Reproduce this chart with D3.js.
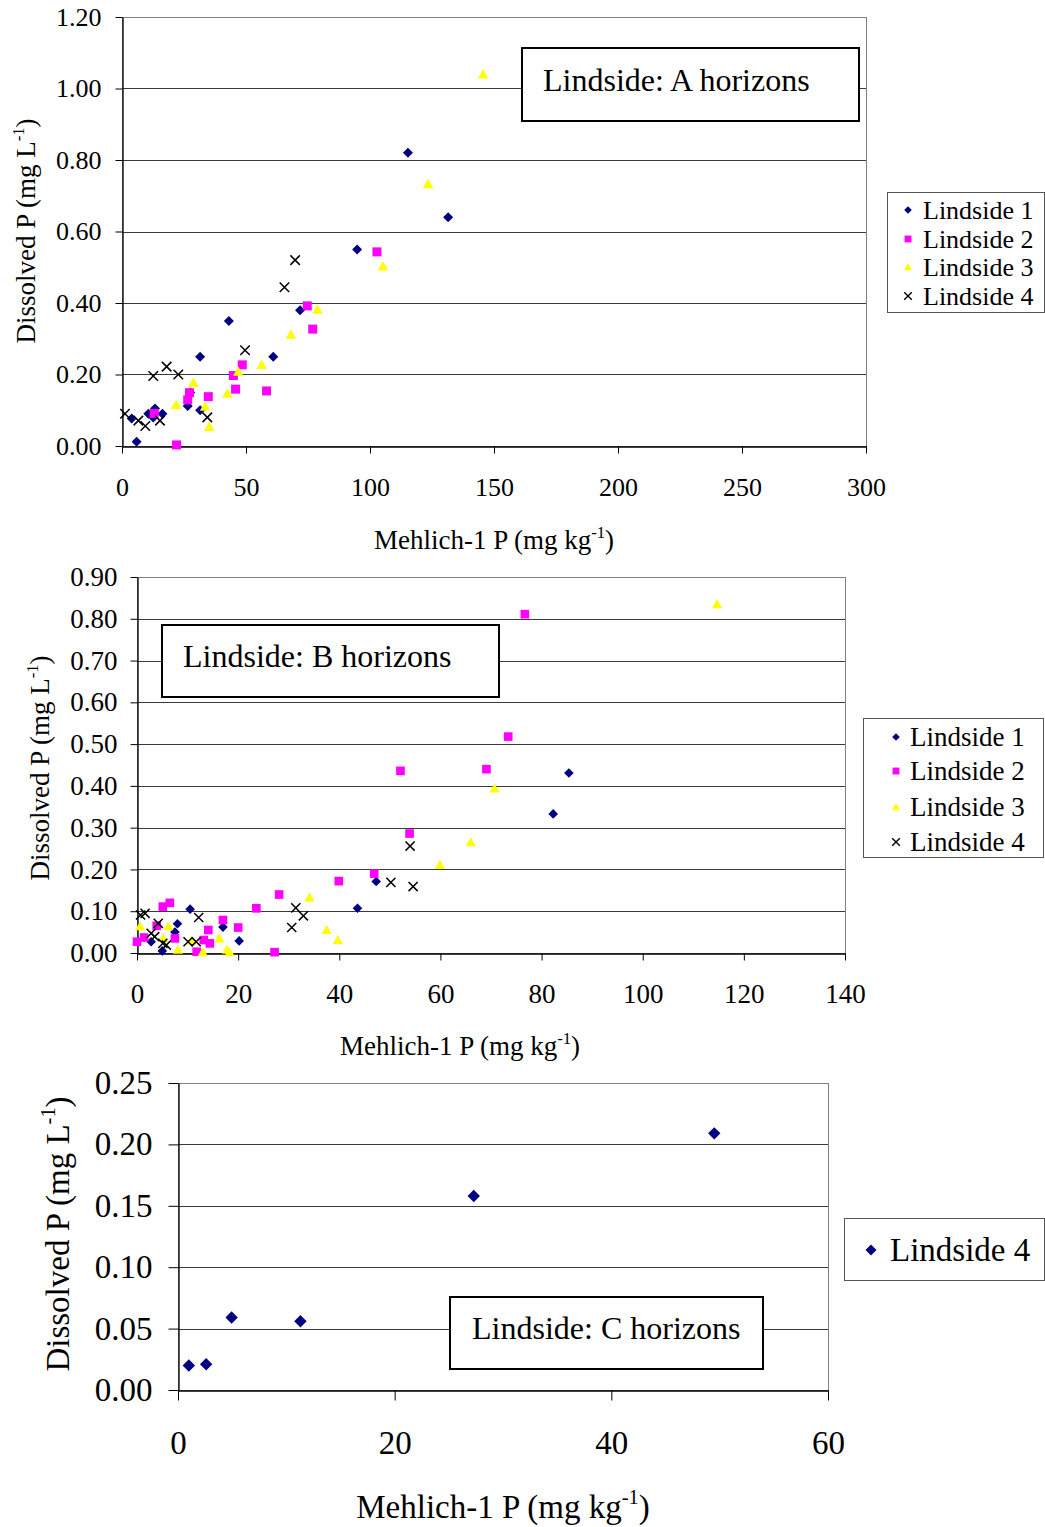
<!DOCTYPE html>
<html><head><meta charset="utf-8">
<script src="https://cdn.jsdelivr.net/npm/d3@7"></script>
<style>
body{margin:0;background:#fff}
svg{display:block}
text{font-family:"Liberation Serif","Times New Roman",serif;fill:#000}
</style>
</head><body>
<svg id="c" width="1045" height="1527"></svg>
<script>
// ---------- DATA ----------
const seriesNames = ["Lindside 1", "Lindside 2", "Lindside 3", "Lindside 4"];

// A horizons  [Mehlich-1 P, Dissolved P]
const aL1 = [[5.9,0.012],[3.9,0.077],[10.6,0.09],[12.6,0.08],[13.3,0.105],[16.3,0.09],[26.5,0.112],[27.5,0.15],[31.5,0.10],[31.5,0.25],[43.1,0.35],[61,0.25],[71.8,0.38],[94.8,0.55],[115.3,0.82],[131.5,0.64]];
const aL2 = [[13,0.091],[22,0.003],[26.5,0.129],[27.2,0.149],[34.8,0.138],[44.9,0.197],[45.8,0.159],[48.5,0.227],[58.3,0.154],[74.7,0.392],[76.9,0.327],[102.8,0.543]];
const aL3 = [[21.8,0.115],[28.8,0.177],[33.5,0.11],[35.2,0.054],[42.5,0.147],[46.9,0.208],[56.3,0.227],[68.1,0.312],[78.8,0.382],[105.2,0.503],[123.4,0.733],[145.6,1.04]];
const aL4 = [[1.2,0.09],[6.6,0.071],[9.4,0.056],[12.6,0.196],[15.3,0.071],[18,0.222],[22.7,0.20],[34.4,0.08],[49.6,0.268],[65.5,0.444],[69.8,0.52]];

// B horizons
const bL1 = [[2.8,0.027],[5,0.005],[7.5,0.05],[8,0.07],[10.5,0.105],[10.9,0.027],[17,0.062],[20.2,0.029],[43.6,0.107],[47.3,0.171],[82.3,0.333],[85.4,0.431]];
const bL2 = [[0,0.027],[1.4,0.037],[3.9,0.065],[5.1,0.111],[6.5,0.12],[7.5,0.035],[11.8,0.003],[13.2,0.031],[14.1,0.055],[14.4,0.023],[17,0.079],[20,0.061],[23.6,0.107],[27.2,0.002],[28.1,0.14],[39.9,0.172],[46.9,0.19],[52.1,0.436],[53.9,0.286],[69.1,0.44],[73.4,0.518],[76.7,0.811]];
const bL3 = [[0.6,0.064],[5.2,0.035],[6.2,0.064],[8.1,0.008],[10.8,0.03],[13,0.002],[16.3,0.035],[17.8,0.008],[18.3,0.002],[34.1,0.133],[37.5,0.055],[39.7,0.031],[59.9,0.211],[66,0.265],[70.7,0.394],[114.7,0.835]];
const bL4 = [[0.7,0.091],[1.6,0.095],[2.8,0.047],[3.5,0.039],[4.2,0.071],[5.1,0.023],[5.8,0.019],[10.1,0.027],[11.7,0.027],[12.2,0.085],[30.6,0.061],[31.4,0.108],[32.9,0.089],[50.2,0.169],[54,0.256],[54.6,0.159]];

// C horizons
const cL4 = [[1.0,0.02],[2.6,0.021],[4.95,0.059],[11.3,0.056],[27.3,0.158],[49.5,0.209]];

// axis ticks
const aXTicks = [0,50,100,150,200,250,300];
const aYTicks = [0,0.2,0.4,0.6,0.8,1.0,1.2];
const bXTicks = [0,20,40,60,80,100,120,140];
const bYTicks = [0,0.1,0.2,0.3,0.4,0.5,0.6,0.7,0.8,0.9];
const cXTicks = [0,20,40,60];
const cYTicks = [0,0.05,0.10,0.15,0.20,0.25];

const titles = ["Lindside: A horizons", "Lindside: B horizons", "Lindside: C horizons"];

// ---------- STYLE ----------
const shapeStyles = [
  {shape:"diamond", fill:"#000080"},
  {shape:"square", fill:"#FF00FF"},
  {shape:"triangle", fill:"#FFFF00"},
  {shape:"x", fill:"none"}
];
function markerPath(shape, s) {
  if (shape === "diamond") return `M0,${-s}L${s},0L0,${s}L${-s},0Z`;
  if (shape === "square") return `M${-s*0.9},${-s*0.9}H${s*0.9}V${s*0.9}H${-s*0.9}Z`;
  if (shape === "triangle") { const t = s * 1.05; return `M0,${-t}L${t},${t*0.8}L${-t},${t*0.8}Z`; }
  return `M${-s},${-s}L${s},${s}M${-s},${s}L${s},${-s}`;
}

const svg = d3.select("#c");

function drawPanel(p) {
  const x = d3.scaleLinear().domain(p.xDomain).range([p.left, p.right]);
  const y = d3.scaleLinear().domain(p.yDomain).range([p.bottom, p.top]);
  const g = svg.append("g");

  // gridlines
  g.append("g").selectAll("line").data(p.yTicks.slice(1)).join("line")
    .attr("x1", p.left).attr("x2", p.right)
    .attr("y1", d => Math.round(y(d)) + 0.5).attr("y2", d => Math.round(y(d)) + 0.5)
    .attr("stroke", "#3a3a3a").attr("stroke-width", 1);
  // plot border
  g.append("rect").attr("x", p.left + 0.5).attr("y", p.top + 0.5)
    .attr("width", p.right - p.left).attr("height", p.bottom - p.top)
    .attr("fill", "none").attr("stroke", "#808080").attr("stroke-width", 1);

  // axes
  const yAxis = d3.axisLeft(y).tickValues(p.yTicks).tickFormat(d3.format(".2f"))
    .tickSizeInner(p.tick).tickSizeOuter(0).tickPadding(p.yPad);
  const ya = g.append("g").attr("transform", `translate(${p.left + 0.5},0)`).call(yAxis);
  const xAxis = d3.axisBottom(x).tickValues(p.xTicks).tickFormat(d3.format("d"))
    .tickSizeInner(p.tick).tickSizeOuter(0).tickPadding(p.xPad);
  const xa = g.append("g").attr("transform", `translate(0,${p.bottom + 0.5})`).call(xAxis);
  [ya, xa].forEach(a => {
    a.select(".domain").attr("stroke", "#000").attr("stroke-width", 1.3);
    a.selectAll(".tick line").attr("stroke", "#000").attr("stroke-width", 1);
    a.selectAll(".tick text").attr("font-size", p.fs).attr("font-family", '"Liberation Serif", serif').attr("fill", "#000");
  });

  // points
  p.series.forEach(s => {
    const st = s.style;
    g.append("g").selectAll("path").data(s.data).join("path")
      .attr("transform", d => `translate(${x(d[0])},${y(d[1])})`)
      .attr("d", markerPath(st.shape, st.shape === "x" ? p.ms * 0.95 : p.ms))
      .attr("fill", st.fill)
      .attr("stroke", st.shape === "x" ? "#000" : "none")
      .attr("stroke-width", 1.5);
  });

  // title box
  g.append("rect").attr("x", p.box[0]).attr("y", p.box[1]).attr("width", p.box[2]).attr("height", p.box[3])
    .attr("fill", "#fff").attr("stroke", "#000").attr("stroke-width", 2);
  g.append("text").attr("x", p.boxText[0]).attr("y", p.boxText[1]).attr("font-size", p.boxFs).text(p.title);

  // legend
  g.append("rect").attr("x", p.leg[0] + 0.5).attr("y", p.leg[1] + 0.5).attr("width", p.leg[2]).attr("height", p.leg[3])
    .attr("fill", "#fff").attr("stroke", "#555").attr("stroke-width", 1);
  p.series.forEach((s, i) => {
    const st = s.style;
    const ry = p.legRows[i];
    g.append("path").attr("transform", `translate(${p.legMarkX},${ry})`)
      .attr("d", markerPath(st.shape, p.legMs))
      .attr("fill", st.fill).attr("stroke", st.shape === "x" ? "#000" : "none").attr("stroke-width", 1.4);
    g.append("text").attr("x", p.legTextX).attr("y", ry).attr("dy", "0.33em").attr("font-size", p.legFs).text(s.name);
  });

  // x title
  const xt = g.append("text").attr("x", p.xTitle[0]).attr("y", p.xTitle[1]).attr("text-anchor", "middle").attr("font-size", p.titleFs);
  xt.append("tspan").text("Mehlich-1 P (mg kg");
  xt.append("tspan").attr("font-size", p.titleFs * 0.62).attr("dy", -p.titleFs * 0.42).text("-1");
  xt.append("tspan").attr("dy", p.titleFs * 0.42).text(")");

  // y title
  const yt = g.append("text").attr("transform", `translate(${p.yTitle[0]},${p.yTitle[1]}) rotate(-90)`)
    .attr("text-anchor", "middle").attr("font-size", p.titleFs);
  yt.append("tspan").text("Dissolved P (mg L");
  yt.append("tspan").attr("font-size", p.titleFs * 0.62).attr("dy", -p.titleFs * 0.42).text("-1");
  yt.append("tspan").attr("dy", p.titleFs * 0.42).text(")");
}

drawPanel({
  left:122, right:866, top:17, bottom:446,
  xDomain:[0,300], yDomain:[0,1.2], xTicks:aXTicks, yTicks:aYTicks,
  fs:26, tick:7, yPad:14, xPad:24, ms:5,
  series:[{name:seriesNames[0],data:aL1,style:shapeStyles[0]},{name:seriesNames[1],data:aL2,style:shapeStyles[1]},{name:seriesNames[2],data:aL3,style:shapeStyles[2]},{name:seriesNames[3],data:aL4,style:shapeStyles[3]}],
  title:titles[0], box:[522,48,337,73], boxText:[543,91], boxFs:32,
  leg:[887,192,157,120], legRows:[210,239,267,296], legMarkX:908, legTextX:923, legMs:3.8, legFs:26,
  xTitle:[494,549], yTitle:[35,231], titleFs:27
});

drawPanel({
  left:137, right:845, top:577, bottom:953,
  xDomain:[0,140], yDomain:[0,0.9], xTicks:bXTicks, yTicks:bYTicks,
  fs:27, tick:7, yPad:13, xPad:23, ms:4.8,
  series:[{name:seriesNames[0],data:bL1,style:shapeStyles[0]},{name:seriesNames[1],data:bL2,style:shapeStyles[1]},{name:seriesNames[2],data:bL3,style:shapeStyles[2]},{name:seriesNames[3],data:bL4,style:shapeStyles[3]}],
  title:titles[1], box:[162,625,337,72], boxText:[183,667], boxFs:32,
  leg:[863,718,180,139], legRows:[737,771,807,842], legMarkX:896, legTextX:910, legMs:3.8, legFs:27,
  xTitle:[460,1055], yTitle:[49,768], titleFs:27
});

drawPanel({
  left:178, right:828, top:1083, bottom:1390,
  xDomain:[0,60], yDomain:[0,0.25], xTicks:cXTicks, yTicks:cYTicks,
  fs:33, tick:10, yPad:16, xPad:30, ms:6.2,
  series:[{name:seriesNames[3], data:cL4, style:shapeStyles[0]}],
  title:titles[2], box:[450,1297,313,72], boxText:[472,1339], boxFs:32,
  leg:[844,1218,200,62], legRows:[1250], legMarkX:871, legTextX:890, legMs:5.5, legFs:33,
  xTitle:[503,1518], yTitle:[69,1234], titleFs:33
});
</script>
</body></html>
